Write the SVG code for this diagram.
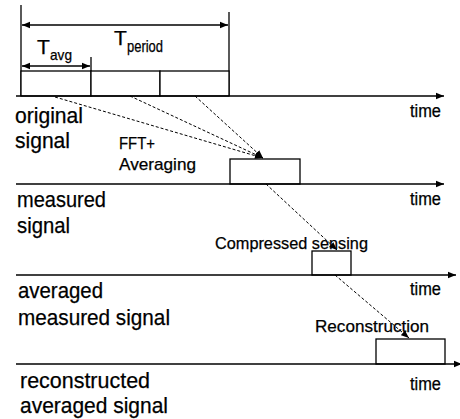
<svg xmlns="http://www.w3.org/2000/svg" width="460" height="419" viewBox="0 0 460 419">
<style>
.ln{stroke:#000;stroke-width:1.3;fill:none}
.bx{stroke:#000;stroke-width:1.3;fill:#fff}
.ds{stroke:#000;stroke-width:1;stroke-dasharray:3 2;fill:none}
.t{font-family:"Liberation Sans",Arial,sans-serif;fill:#000;stroke:#000;stroke-width:0.25}
.lb{font-size:22px}
.sm{font-size:17px}
.tm{font-size:18px}
</style>
<defs>
<marker id="ah" viewBox="0 0 10 10" refX="10" refY="5" markerWidth="8" markerHeight="8" markerUnits="userSpaceOnUse" orient="auto-start-reverse">
<path d="M0,1 L10,5 L0,9 Z" fill="#000"/>
</marker>
</defs>
<rect width="460" height="419" fill="#fff"/>
<g id="timing">
<line class="ln" x1="21" y1="5" x2="21" y2="96"/>
<line class="ln" x1="229" y1="12" x2="229" y2="96"/>
<line class="ln" x1="91" y1="57" x2="91" y2="96"/>
<line class="ln" x1="22" y1="25" x2="228" y2="25" marker-start="url(#ah)" marker-end="url(#ah)"/>
<line class="ln" x1="22" y1="66" x2="90" y2="66" marker-start="url(#ah)" marker-end="url(#ah)"/>
<text class="t" x="37" y="54" font-size="21">T</text>
<text class="t" x="50" y="60" font-size="15" textLength="22" lengthAdjust="spacingAndGlyphs">avg</text>
<text class="t" x="114" y="45" font-size="21">T</text>
<text class="t" x="127" y="52" font-size="16" textLength="36" lengthAdjust="spacingAndGlyphs">period</text>
</g>
<g id="original">
<rect class="bx" x="21" y="71" width="70" height="25"/>
<rect class="bx" x="91" y="71" width="69" height="25"/>
<rect class="bx" x="160" y="71" width="69" height="25"/>
<line class="ln" x1="16" y1="96" x2="444" y2="96" marker-end="url(#ah)"/>
<text class="t lb" x="15" y="123" textLength="68" lengthAdjust="spacingAndGlyphs">original</text>
<text class="t lb" x="15" y="148" textLength="55" lengthAdjust="spacingAndGlyphs">signal</text>
<text class="t tm" x="410" y="117" textLength="31" lengthAdjust="spacingAndGlyphs">time</text>
</g>
<g id="measured">
<rect class="bx" x="230" y="159" width="70" height="25"/>
<line class="ln" x1="16" y1="184" x2="444" y2="184" marker-end="url(#ah)"/>
<text class="t lb" x="17" y="207" textLength="89" lengthAdjust="spacingAndGlyphs">measured</text>
<text class="t lb" x="17" y="233" textLength="53" lengthAdjust="spacingAndGlyphs">signal</text>
<text class="t tm" x="410" y="205" textLength="31" lengthAdjust="spacingAndGlyphs">time</text>
</g>
<g id="averaged">
<rect class="bx" x="312" y="251" width="39" height="24"/>
<line class="ln" x1="16" y1="275" x2="456" y2="275" marker-end="url(#ah)"/>
<text class="t lb" x="18" y="298" textLength="85" lengthAdjust="spacingAndGlyphs">averaged</text>
<text class="t lb" x="18" y="325" textLength="152" lengthAdjust="spacingAndGlyphs">measured signal</text>
<text class="t tm" x="410" y="295" textLength="31" lengthAdjust="spacingAndGlyphs">time</text>
</g>
<g id="reconstructed">
<rect class="bx" x="376" y="339" width="69" height="25"/>
<line class="ln" x1="16" y1="364" x2="462" y2="364" marker-end="url(#ah)"/>
<text class="t lb" x="20" y="388" textLength="130" lengthAdjust="spacingAndGlyphs">reconstructed</text>
<text class="t lb" x="20" y="413" textLength="148" lengthAdjust="spacingAndGlyphs">averaged signal</text>
<text class="t tm" x="410" y="390" textLength="31" lengthAdjust="spacingAndGlyphs">time</text>
</g>
<g id="connectors">
<line class="ds" x1="55" y1="97" x2="263" y2="158" marker-end="url(#ah)"/>
<line class="ds" x1="130" y1="96" x2="263" y2="158" marker-end="url(#ah)"/>
<line class="ds" x1="195" y1="96" x2="263" y2="158" marker-end="url(#ah)"/>
<line class="ds" x1="266" y1="184" x2="337" y2="250" marker-end="url(#ah)"/>
<line class="ds" x1="335" y1="275" x2="409" y2="338" marker-end="url(#ah)"/>
</g>
<g id="labels">
<text class="t sm" x="119" y="149" textLength="36" lengthAdjust="spacingAndGlyphs">FFT+</text>
<text class="t sm" x="119" y="170" textLength="77" lengthAdjust="spacingAndGlyphs">Averaging</text>
<text class="t sm" x="215" y="249" textLength="153" lengthAdjust="spacingAndGlyphs">Compressed sensing</text>
<text class="t sm" x="315" y="332" textLength="114" lengthAdjust="spacingAndGlyphs">Reconstruction</text>
</g>
</svg>
